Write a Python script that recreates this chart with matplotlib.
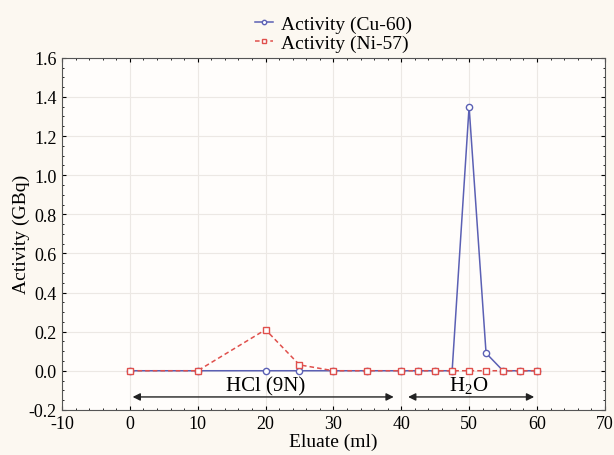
import matplotlib.pyplot as plt
from matplotlib.ticker import MultipleLocator

# eluate volumes (ml) and measured activities (GBq)
eluate = [0, 10, 20, 25, 30, 35, 40, 42.5, 45, 47.5, 50, 52.5, 55, 57.5, 60]
cu60 = [0, 0, 0, 0, 0, 0, 0, 0, 0, 0, 1.35, 0.09, 0, 0, 0]
ni57 = [0, 0, 0.21, 0.03, 0, 0, 0, 0, 0, 0, 0, 0, 0, 0, 0]

plt.rcParams['font.family'] = ['Liberation Serif', 'DejaVu Serif']
plt.rcParams['axes.unicode_minus'] = False
plt.rcParams['mathtext.fontset'] = 'custom'
plt.rcParams['mathtext.rm'] = 'Liberation Serif'

fig = plt.figure(figsize=(6.14, 4.56), dpi=100, facecolor='#fcf8f1')
ax = fig.add_axes([0.101, 0.099, 0.884, 0.772])
ax.set_facecolor('#fffdfb')

ax.plot(eluate, cu60, color='#5b60b4', lw=1.1, marker='o', ms=4.5,
        mfc='white', mec='#5b60b4', mew=1.0, label='Activity (Cu-60)', zorder=3)
ax.plot(eluate, ni57, color='#e0504c', lw=1.1, ls='--', dashes=(3, 2), marker='s', ms=4.5,
        mfc='white', mec='#e0504c', mew=1.0, label='Activity (Ni-57)', zorder=4)

# elution phase arrows
ax.annotate('', xy=(0, -0.134), xytext=(39.3, -0.134),
            arrowprops=dict(arrowstyle='<|-|>', color='#222222', lw=1.0, mutation_scale=11))
ax.annotate('', xy=(40.6, -0.134), xytext=(60, -0.134),
            arrowprops=dict(arrowstyle='<|-|>', color='#222222', lw=1.0, mutation_scale=11))
ax.text(20, -0.075, 'HCl (9N)', ha='center', va='center', fontsize=15)
ax.text(50, -0.075, r'H$_\mathrm{2}$O', ha='center', va='center', fontsize=15)

ax.set_xlim(-10, 70)
ax.set_ylim(-0.2, 1.6)
ax.xaxis.set_major_locator(MultipleLocator(10))
ax.xaxis.set_minor_locator(MultipleLocator(2))
ax.yaxis.set_major_locator(MultipleLocator(0.2))
ax.yaxis.set_minor_locator(MultipleLocator(0.05))
ax.set_yticks([-0.2, 0.0, 0.2, 0.4, 0.6, 0.8, 1.0, 1.2, 1.4, 1.6])
ax.set_yticklabels(['-0.2', '0.0', '0.2', '0.4', '0.6', '0.8', '1.0', '1.2', '1.4', '1.6'])
ax.tick_params(which='both', direction='in', top=True, right=True, labelsize=13)
ax.tick_params(axis='x', pad=4)
ax.tick_params(axis='y', pad=4)
ax.tick_params(which='major', length=3)
ax.tick_params(which='minor', length=1.5)
ax.grid(True, which='major', color='#ece8e4', lw=0.8)
ax.set_axisbelow(True)
for s in ax.spines.values():
    s.set_color('#555555')

ax.set_xlabel('Eluate (ml)', fontsize=14, labelpad=0)
ax.set_ylabel('Activity (GBq)', fontsize=14, labelpad=-1)

ax.legend(loc='lower center', bbox_to_anchor=(0.5, 0.99), frameon=False, fontsize=14,
          handlelength=0.9, handletextpad=0.4, labelspacing=0.05, borderpad=0.0,
          markerscale=0.7)

fig.savefig('out.png', dpi=100, facecolor=fig.get_facecolor())
